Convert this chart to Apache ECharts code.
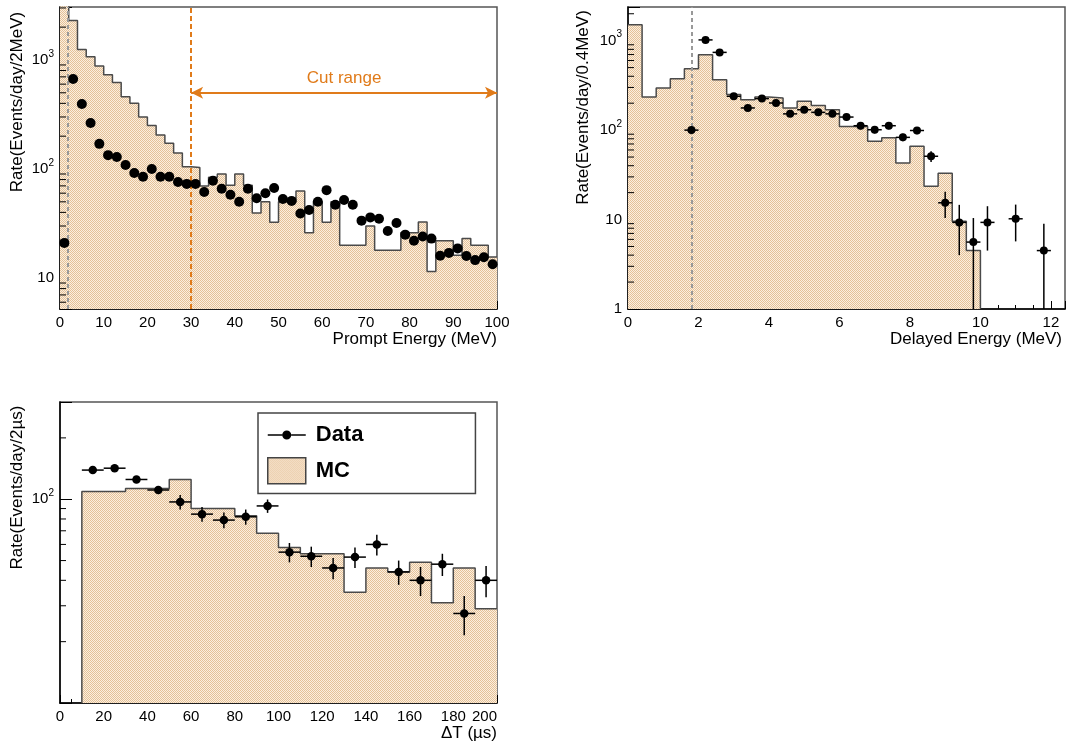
<!DOCTYPE html>
<html><head><meta charset="utf-8">
<script src="https://cdn.jsdelivr.net/npm/echarts@6/dist/echarts.min.js"></script>
<style>html,body{margin:0;padding:0;background:#fff}#c{width:1069px;height:742px}</style>
</head><body><div id="c"></div>
<script>
// ---------------- data ----------------
// Panel 1: prompt energy, 2 MeV bins from 0 to 100
const promptBinWidth = 2;
const promptMC = [3500, 2300, 1250, 1070, 880, 730, 620, 460, 400, 300,
  250, 205, 172, 140, 105, 103, 70, 84, 90, 71,
  90, 71, 39.5, 50, 32.5, 50, 50, 63, 26, 50,
  32.5, 50, 20, 20, 20, 30, 18, 18, 18, 26,
  26, 32.7, 11.5, 22, 22, 16.2, 23, 20, 20, 15.6];
const promptData = [21, 670, 395, 264, 170, 134, 129, 109, 92, 85,
  100, 85, 85, 76, 73, 73, 61.5, 78, 66, 58,
  50, 66, 54, 60, 67, 53, 51, 39, 42, 50,
  64, 47, 52, 47, 33.6, 36, 35, 27, 32, 25,
  22, 24, 23, 16, 17, 18.7, 15.9, 14.6, 15.5, 13.4];
const promptThreshold = 1.7;
const cutRange = [30, 100];
const cutArrowLevel = 500;
const cutLabel = 'Cut range';
const promptMinorTicks = [6, 7, 8, 9, 20, 30, 40, 50, 60, 70, 80, 90, 200, 300, 400, 500, 600, 700, 800, 900, 2000, 3000];

// Panel 2: delayed energy, 0.4 MeV bins
const delayedBinWidth = 0.4;
const delayedMC = [1510, 235, 296, 376, 487, 698, 366, 250, 219, 235,
  229, 177, 210, 188, 169, 110, 110, 75, 82, 43,
  66, 23.6, 33, 9.6, 4.5];
const delayedDataX = [1.8, 2.2, 2.6, 3.0, 3.4, 3.8, 4.2, 4.6, 5.0, 5.4, 5.8, 6.2, 6.6, 7.0, 7.4, 7.8, 8.2, 8.6, 9.0, 9.4, 9.8, 10.2, 11.0, 11.8];
const delayedDataY = [100, 1020, 740, 239, 177, 225, 201, 152, 169, 158, 152, 140, 112, 101, 112, 83, 99, 51, 15.4, 9.3, 5.6, 9.3, 10.2, 4.5];
const delayedDataErr = [10, 30, 25, 14, 12, 14, 13, 11, 12, 11, 11, 11, 10, 9, 10, 8, 9, 7, 5, 5.3, 4.8, 4.8, 4.5, 4.5];
const delayedThreshold = 1.8;
const delayedMinorTicks = [2, 3, 4, 5, 6, 7, 8, 9, 20, 30, 40, 50, 60, 70, 80, 90, 200, 300, 400, 500, 600, 700, 800, 900, 2000];

// Panel 3: time difference, 10 us bins from 10 to 200
const dtStart = 10;
const dtBinWidth = 10;
const dtMC = [109, 109, 113, 113, 125, 90, 90, 83, 68, 58, 54, 54, 35, 46, 44, 49, 31, 46, 29];
const dtDataY = [139, 142, 125, 111, 97, 84.5, 79, 82, 92.7, 55, 52.5, 46, 52, 60, 44, 40, 48, 27.5, 40];
const dtDataErr = [5, 5, 5, 5, 8, 7, 7, 7, 7, 6, 6, 5.5, 6, 7, 6, 6.5, 6, 6, 7];
const dtMinorTicks = [20, 30, 40, 50, 60, 70, 80, 90, 200];

// ---------------- helpers ----------------
const FONT = 'Liberation Sans, Helvetica, Arial, sans-serif';
const ORANGE = '#e07b1a';

function hatch() {
  const c = document.createElement('canvas');
  c.width = 2; c.height = 2;
  const g = c.getContext('2d');
  g.fillStyle = '#fcefdf'; g.fillRect(0, 0, 2, 2);
  g.fillStyle = '#e4c198'; g.fillRect(0, 0, 1, 1); g.fillRect(1, 1, 1, 1);
  return c;
}
const FILL = { image: hatch(), repeat: 'repeat' };

function stepData(x0, w, vals, floorStart, floorEnd) {
  const d = [];
  if (floorStart != null) d.push([x0, floorStart]);
  vals.forEach((v, i) => d.push([+(x0 + i * w).toFixed(4), v]));
  const xe = +(x0 + vals.length * w).toFixed(4);
  d.push([xe, vals[vals.length - 1]]);
  if (floorEnd != null) d.push([xe, floorEnd]);
  return d;
}

function logLabel(minShown) {
  return function (v) {
    const l = Math.log10(v), e = Math.round(l);
    if (Math.abs(l - e) > 1e-6 || v < minShown) return '';
    if (e === 0) return '1';
    if (e === 1) return '10';
    return '10{sup|' + e + '}';
  };
}

function xAxisCfg(gi, min, max, interval, minorSplit, name, nameGap, extraLabel) {
  return {
    type: 'value', gridIndex: gi, min, max, interval,
    name, nameLocation: 'end', nameGap, nameMoveOverlap: false,
    nameTextStyle: { fontFamily: FONT, fontSize: 17, color: '#000', align: 'right', verticalAlign: 'top', padding: [22, 0, 0, 0] },
    axisLine: { show: true, onZero: false, lineStyle: { color: '#000', width: 1.5 } },
    axisTick: { show: true, inside: true, length: 8, lineStyle: { color: '#000', width: 1 } },
    minorTick: { show: true, splitNumber: minorSplit, length: 4, lineStyle: { color: '#000', width: 1 } },
    splitLine: { show: false }, minorSplitLine: { show: false },
    axisLabel: Object.assign({
      fontFamily: FONT, fontSize: 15, color: '#000', margin: 6,
      formatter: v => (Math.abs(v / interval - Math.round(v / interval)) < 1e-6 ? String(Math.round(v)) : '')
    }, extraLabel || {})
  };
}

function yAxisCfg(gi, min, max, name, nameGap, pad, minShown) {
  return {
    type: 'log', logBase: 10, gridIndex: gi, min, max,
    name, nameLocation: 'middle', nameRotate: 90, nameGap, nameMoveOverlap: false,
    nameTextStyle: { fontFamily: FONT, fontSize: 17, color: '#000', padding: [0, 0, 0, pad] },
    axisLine: { show: true, onZero: false, lineStyle: { color: '#000', width: 1.5 } },
    axisTick: { show: true, inside: true, length: 12, lineStyle: { color: '#000', width: 1 } },
    minorTick: { show: false },
    splitLine: { show: false }, minorSplitLine: { show: false },
    axisLabel: {
      fontFamily: FONT, fontSize: 15, color: '#000', margin: 6, lineHeight: 22,
      formatter: logLabel(minShown),
      rich: { sup: { fontFamily: FONT, fontSize: 10, color: '#000', verticalAlign: 'top', lineHeight: 12 } }
    }
  };
}

function mcSeries(name, gi, data, markLine) {
  const s = {
    type: 'line', name, xAxisIndex: gi, yAxisIndex: gi, step: 'end', symbol: 'none',
    data, clip: true, z: 2, silent: true,
    lineStyle: { color: '#4a4a4a', width: 1.5 },
    itemStyle: { color: '#4a4a4a' },
    areaStyle: { color: FILL, origin: 'start', opacity: 1 }
  };
  if (markLine) s.markLine = markLine;
  return s;
}

function dataSeries(name, gi, data, size) {
  return {
    type: 'scatter', name, xAxisIndex: gi, yAxisIndex: gi, data, symbol: 'circle',
    symbolSize: size, itemStyle: { color: '#000', opacity: 1 }, z: 5, silent: true, clip: true
  };
}

function errSeries(gi, data, yFloor) {
  return {
    type: 'custom', xAxisIndex: gi, yAxisIndex: gi, data, z: 4, silent: true, clip: true,
    encode: { x: 0, y: 1 },
    renderItem(params, api) {
      const x = api.value(0), y = api.value(1), xe = api.value(2), ye = api.value(3);
      const pl = api.coord([x - xe, y]), pr = api.coord([x + xe, y]);
      const pt = api.coord([x, y + ye]), pb = api.coord([x, Math.max(y - ye, yFloor)]);
      const st = { stroke: '#000', lineWidth: 1.5 };
      return { type: 'group', children: [
        { type: 'line', shape: { x1: pl[0], y1: pl[1], x2: pr[0], y2: pr[1] }, style: st },
        { type: 'line', shape: { x1: pt[0], y1: pt[1], x2: pb[0], y2: pb[1] }, style: st }
      ] };
    }
  };
}

function minorTickSeries(gi, xMin, ticks) {
  return {
    type: 'custom', xAxisIndex: gi, yAxisIndex: gi, z: 6, silent: true,
    data: ticks.map(v => [xMin, v]), encode: { x: 0, y: 1 },
    renderItem(params, api) {
      const p = api.coord([api.value(0), api.value(1)]);
      return { type: 'line', shape: { x1: p[0], y1: p[1], x2: p[0] + 6, y2: p[1] }, style: { stroke: '#000', lineWidth: 1 } };
    }
  };
}

// ---------------- build ----------------
const promptPoints = promptData.map((v, i) => [(i + 0.5) * promptBinWidth, v]);
const delayedPoints = delayedDataX.map((x, i) => [x, delayedDataY[i]]);
const delayedErr = delayedDataX.map((x, i) => [x, delayedDataY[i], delayedBinWidth / 2, delayedDataErr[i]]);
const dtPoints = dtDataY.map((v, i) => [dtStart + (i + 0.5) * dtBinWidth, v]);
const dtErr = dtDataY.map((v, i) => [dtStart + (i + 0.5) * dtBinWidth, v, dtBinWidth / 2, dtDataErr[i]]);

const promptMarks = {
  silent: true, symbol: ['none', 'none'], animation: false,
  label: { show: false },
  data: [
    { xAxis: promptThreshold, lineStyle: { color: '#999', type: [4, 3], width: 2 } },
    { xAxis: cutRange[0], lineStyle: { color: ORANGE, type: [5, 3], width: 2 } },
    [
      { coord: [cutRange[0], cutArrowLevel], symbol: 'arrow', symbolSize: [9, 12] },
      { coord: [cutRange[1], cutArrowLevel], symbol: 'arrow', symbolSize: [9, 12],
        lineStyle: { color: ORANGE, type: 'solid', width: 2 },
        label: { show: true, formatter: cutLabel, position: 'insideMiddleTop', distance: 6, color: ORANGE, fontFamily: FONT, fontSize: 17 } }
    ]
  ]
};
const delayedMarks = {
  silent: true, symbol: ['none', 'none'], animation: false, label: { show: false },
  data: [{ xAxis: delayedThreshold, lineStyle: { color: '#999', type: [4, 3], width: 2 } }]
};

const gridBase = { show: true, borderColor: '#555', borderWidth: 1.5, backgroundColor: 'transparent', containLabel: false, outerBoundsMode: 'none' };

const option = {
  animation: false,
  backgroundColor: '#fff',
  textStyle: { fontFamily: FONT },
  grid: [
    Object.assign({ left: 60, top: 7, width: 437, height: 302 }, gridBase),
    Object.assign({ left: 628, top: 7, width: 437, height: 302 }, gridBase),
    Object.assign({ left: 60, top: 402, width: 437, height: 301 }, gridBase)
  ],
  xAxis: [
    xAxisCfg(0, 0, 100, 10, 5, 'Prompt Energy (MeV)', 0),
    xAxisCfg(1, 0, 12.4, 2, 4, 'Delayed Energy (MeV)', -3),
    xAxisCfg(2, 0, 200, 20, 4, 'ΔT (µs)', 0, { alignMaxLabel: 'right' })
  ],
  yAxis: [
    yAxisCfg(0, 5.2, 3060, 'Rate(Events/day/2MeV)', 34, 112, 1),
    yAxisCfg(1, 1, 2380, 'Rate(Events/day/0.4MeV)', 36, 101, 1),
    yAxisCfg(2, 10, 300, 'Rate(Events/day/2µs)', 34, 130, 50)
  ],
  legend: {
    show: true, left: 258, top: 413, orient: 'vertical',
    padding: [9, 112, 9, 9], itemGap: 9, itemWidth: 38, itemHeight: 26,
    borderColor: '#444', borderWidth: 1.5, backgroundColor: '#fff',
    selectedMode: false,
    textStyle: { fontFamily: FONT, fontSize: 22, fontWeight: 'bold', color: '#000', padding: [0, 0, 0, 5] },
    data: [
      { name: 'Data', icon: 'path://M0,0L0.01,0ZM38,26L37.99,26ZM0,12.3L14.5,12.3L14.5,13.7L0,13.7ZM23.5,12.3L38,12.3L38,13.7L23.5,13.7ZM14.5,13A4.5,4.5 0 1 1 23.5,13A4.5,4.5 0 1 1 14.5,13Z', itemStyle: { color: '#000' } },
      { name: 'MC', icon: 'rect', itemStyle: { color: FILL, borderColor: '#444', borderWidth: 1.5 } }
    ]
  },
  series: [
    mcSeries('MC ', 0, stepData(0, promptBinWidth, promptMC, null, null), promptMarks),
    dataSeries('Data ', 0, promptPoints, 10),
    minorTickSeries(0, 0, promptMinorTicks),

    mcSeries('MC  ', 1, stepData(0, delayedBinWidth, delayedMC, null, 1), delayedMarks),
    errSeries(1, delayedErr, 1),
    dataSeries('Data  ', 1, delayedPoints, 8),
    minorTickSeries(1, 0, delayedMinorTicks),

    mcSeries('MC', 2, stepData(dtStart, dtBinWidth, dtMC, 10, null)),
    errSeries(2, dtErr, 10),
    dataSeries('Data', 2, dtPoints, 8.5),
    minorTickSeries(2, 0, dtMinorTicks)
  ]
};

const chart = echarts.init(document.getElementById('c'), null, { renderer: 'canvas' });
chart.setOption(option);
</script>
</body></html>
